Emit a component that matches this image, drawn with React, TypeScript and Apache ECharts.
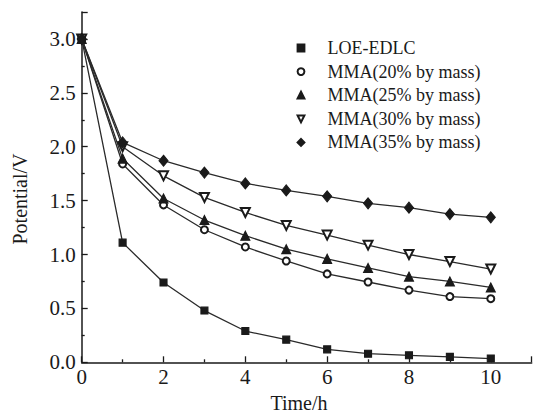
import React, { useEffect, useRef } from "react";
import * as echarts from "echarts";

const timeH = [0, 1, 2, 3, 4, 5, 6, 7, 8, 9, 10];
const loeEdlc = [3.0, 1.11, 0.74, 0.48, 0.29, 0.21, 0.12, 0.08, 0.065, 0.05, 0.035];
const mma20 = [3.0, 1.84, 1.46, 1.23, 1.07, 0.94, 0.82, 0.745, 0.67, 0.61, 0.59];
const mma25 = [3.0, 1.89, 1.52, 1.32, 1.175, 1.05, 0.96, 0.875, 0.795, 0.75, 0.695];
const mma30 = [3.0, 2.0, 1.73, 1.53, 1.39, 1.27, 1.18, 1.087, 1.0, 0.935, 0.865];
const mma35 = [3.0, 2.04, 1.87, 1.76, 1.66, 1.595, 1.54, 1.475, 1.435, 1.375, 1.345];

const seriesNames = [
  "LOE-EDLC",
  "MMA(20% by mass)",
  "MMA(25% by mass)",
  "MMA(30% by mass)",
  "MMA(35% by mass)",
];
const xTitle = "Time/h";
const yTitle = "Potential/V";

const FONT = "'Liberation Serif', 'DejaVu Serif', serif";
const INK = "#1a1a1a";

export default function App() {
  const ref = useRef<HTMLDivElement>(null);
  useEffect(() => {
    if (!ref.current) return;
    const chart = echarts.init(ref.current, null, { renderer: "svg" });
    const pair = (ys: number[]) => timeH.map((t, i) => [t, ys[i]]);
    const mk = (
      name: string,
      ys: number[],
      symbol: string,
      size: number | number[],
      rotate = 0
    ) => ({
      name,
      type: "line",
      data: pair(ys),
      symbol,
      symbolSize: size,
      symbolRotate: rotate,
      showAllSymbol: true,
      lineStyle: { color: "#2a2a2a", width: 1.3 },
      itemStyle: { color: INK, borderColor: INK, borderWidth: 1.1 },
      emphasis: { disabled: true },
    });
    chart.setOption({
      animation: false,
      backgroundColor: "#fff",
      grid: { left: 81.7, right: 2.3, top: 12, bottom: 50.7, containLabel: false },
      legend: {
        orient: "vertical",
        left: 278.5,
        top: 38,
        padding: 0,
        itemWidth: 43,
        itemHeight: 8.5,
        itemGap: 3.6,
        selectedMode: false,
        lineStyle: { opacity: 0 },
        textStyle: { fontFamily: FONT, fontSize: 18, color: INK, lineHeight: 20 },
        data: seriesNames,
      },
      xAxis: {
        type: "value",
        min: 0,
        max: 11,
        interval: 2,
        axisLine: { show: true, lineStyle: { color: INK, width: 1.5 } },
        axisTick: { show: true, inside: true, length: 6, lineStyle: { color: INK, width: 1.3 } },
        minorTick: { show: true, splitNumber: 2, length: 3, lineStyle: { color: INK, width: 1.3 } },
        splitLine: { show: false },
        axisLabel: {
          fontFamily: FONT,
          fontSize: 21,
          color: INK,
          margin: 4,
          showMaxLabel: false,
        },
      },
      yAxis: {
        type: "value",
        min: 0,
        max: 3.25,
        interval: 0.5,
        axisLine: { show: true, lineStyle: { color: INK, width: 1.5 } },
        axisTick: { show: true, inside: true, length: 6, lineStyle: { color: INK, width: 1.3 } },
        minorTick: { show: true, splitNumber: 2, length: 3, lineStyle: { color: INK, width: 1.3 } },
        splitLine: { show: false },
        axisLabel: {
          fontFamily: FONT,
          fontSize: 21,
          color: INK,
          margin: 6,
          formatter: (v: number) => v.toFixed(1),
          showMaxLabel: false,
        },
      },
      graphic: [
        {
          type: "text",
          x: 299,
          y: 403,
          style: {
            text: xTitle,
            font: `20px ${FONT}`,
            fill: INK,
            align: "center",
            verticalAlign: "middle",
          },
        },
        {
          type: "text",
          x: 19.5,
          y: 199,
          rotation: Math.PI / 2,
          style: {
            text: yTitle,
            font: `20px ${FONT}`,
            fill: INK,
            align: "center",
            verticalAlign: "middle",
          },
        },
      ],
      series: [
        mk(seriesNames[0], loeEdlc, "rect", 7),
        mk(seriesNames[1], mma20, "emptyCircle", 7),
        mk(seriesNames[2], mma25, "triangle", 9),
        mk(seriesNames[3], mma30, "emptyTriangle", 9, 180),
        mk(seriesNames[4], mma35, "diamond", [9, 11]),
      ],
    });
    return () => chart.dispose();
  }, []);
  return (
    <div
      ref={ref}
      style={{ position: "fixed", left: 0, top: 0, width: 534, height: 413 }}
    />
  );
}
